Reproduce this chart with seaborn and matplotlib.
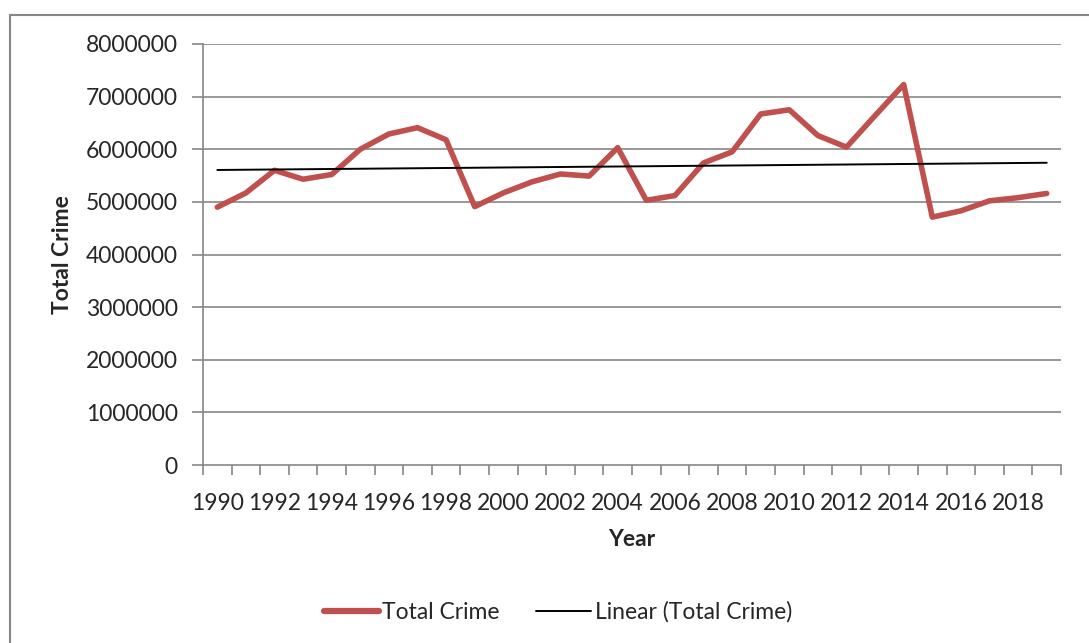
import matplotlib.pyplot as plt
import seaborn as sns
import numpy as np
import pandas as pd
from matplotlib.patches import Rectangle
from matplotlib.lines import Line2D

years = list(range(1990, 2020))
total_crime = [4900000, 5170000, 5600000, 5430000, 5520000, 6000000, 6290000, 6410000,
               6180000, 4910000, 5170000, 5380000, 5530000, 5490000, 6030000, 5030000,
               5120000, 5740000, 5950000, 6670000, 6750000, 6260000, 6040000, 6640000,
               7230000, 4710000, 4830000, 5020000, 5080000, 5160000]
y_ticks = [0, 1000000, 2000000, 3000000, 4000000, 5000000, 6000000, 7000000, 8000000]

df = pd.DataFrame({'Year': years, 'Total Crime': total_crime})

# linear trend, like Excel's "Linear" trendline
coef = np.polyfit(df['Year'], df['Total Crime'], 1)
df['Trend'] = np.polyval(coef, df['Year'])

sns.set_style('white')
plt.rcParams['font.family'] = ['Lato', 'DejaVu Sans']
fs = 16.5

W, H = 1089, 643
fig = plt.figure(figsize=(W / 100, H / 100), dpi=100)
ax = fig.add_axes([203 / W, 1 - 465 / H, (1061 - 203) / W, (465 - 44) / H])

grid_c = '#868686'
for t in y_ticks[1:]:
    ax.axhline(t, color=grid_c, linewidth=1.2, zorder=1)

sns.lineplot(data=df, x='Year', y='Total Crime', ax=ax, color='#C0504D',
             linewidth=4, zorder=3)
sns.lineplot(data=df, x='Year', y='Trend', ax=ax, color='black',
             linewidth=1.4, zorder=4)

ax.set_xlim(1989.5, 2019.5)
ax.set_ylim(0, 8000000)
ax.set_yticks(y_ticks)
ax.set_yticklabels([str(t) for t in y_ticks], fontsize=fs)
ax.set_xticks(np.arange(1989.5, 2020, 1))
ax.set_xticklabels([])
ax.set_xticks(years[::2], minor=True)
ax.set_xticklabels([str(y) for y in years[::2]], minor=True, fontsize=fs)
ax.tick_params(axis='x', which='major', length=7, width=1.2, color=grid_c, direction='out')
ax.tick_params(axis='x', which='minor', length=0, pad=20)
ax.tick_params(axis='y', length=8, width=1.2, color=grid_c, direction='out', pad=10)
ax.xaxis.set_ticks_position('bottom')
ax.yaxis.set_ticks_position('left')

for s in ['top', 'right']:
    ax.spines[s].set_visible(False)
for s in ['left', 'bottom']:
    ax.spines[s].set_color(grid_c)
    ax.spines[s].set_linewidth(1.2)

ax.set_xlabel('Year', fontsize=fs, fontweight='bold', labelpad=11)
ax.set_ylabel('Total Crime', fontsize=fs, fontweight='bold', labelpad=9)

handles = [Line2D([], [], color='#C0504D', linewidth=4.5),
           Line2D([], [], color='black', linewidth=1.4)]
fig.legend(handles, ['Total Crime', 'Linear (Total Crime)'], loc='center',
           bbox_to_anchor=(558 / W, 1 - 612 / H), ncol=2, frameon=False,
           fontsize=fs, handlelength=2.4, handletextpad=0.15, columnspacing=1.6)

fig.patches.append(Rectangle((10 / W, -0.1), 1.2, 1 - 15 / H + 0.1,
                             transform=fig.transFigure, fill=False,
                             edgecolor=grid_c, linewidth=1.5))

fig.savefig('out.png', dpi=100)
